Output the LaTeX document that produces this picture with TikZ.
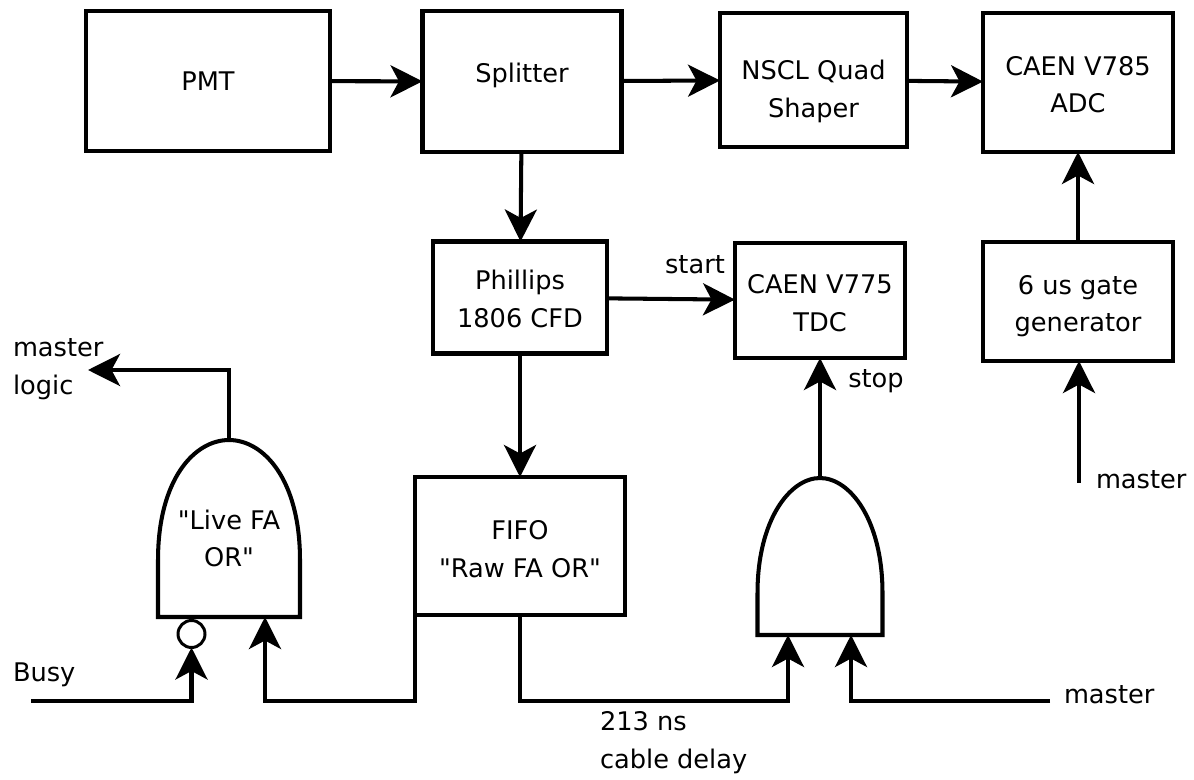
\documentclass[tikz,border=0pt]{standalone}
\usepackage{fontspec}
\setmainfont{DejaVu Sans}[Ligatures=TeXOff]
\usepackage{tikz}
\usetikzlibrary{arrows.meta, calc}
\tikzset{
  boxnode/.style={draw, line width=2.7pt, outer sep=0pt, inner sep=0pt, align=center},
  gatebox/.style={outer sep=0pt, inner sep=0pt, align=center},
  plaintext/.style={align=left, inner sep=0pt, outer sep=0pt},
  wire/.style={line width=2.3pt, line join=miter},
  sig/.style={wire, -{Stealth[length=0.64cm, width=0.64cm, inset=0.17cm]}},
  textdown/.style={text height=#1, text depth=0pt}
}

\begin{document}
\begin{tikzpicture}[x=0.02cm, y=-0.02cm,
    font=\fontsize{14.6}{21.6}\selectfont]
  \useasboundingbox (0,0) rectangle (1194,780);
  % top row
  \node[boxnode, minimum width=4.88cm, minimum height=2.8cm] (pmt) at (208,81) {PMT};
  \node[boxnode, minimum width=3.98cm, minimum height=2.82cm, textdown=1.7pt] (splitter) at (522,81.5) {Splitter};
  \node[boxnode, minimum width=3.74cm, minimum height=2.68cm, textdown=43.2pt] (shaper) at (813.5,80) {NSCL Quad\\Shaper};
  \node[boxnode, minimum width=3.8cm, minimum height=2.78cm, textdown=34.7pt] (adc) at (1078,82.5) {CAEN V785\\ADC};
  % middle row
  \node[boxnode, minimum width=3.48cm, minimum height=2.24cm, textdown=33.6pt] (cfd) at (520,297.5) {Phillips\\1806 CFD};
  \node[boxnode, minimum width=3.4cm, minimum height=2.3cm, textdown=35.8pt] (tdc) at (820,300.5) {CAEN V775\\TDC};
  \node[boxnode, minimum width=3.8cm, minimum height=2.38cm, textdown=34.7pt] (gategen) at (1078,301.5) {6 us gate\\generator};
  % bottom row
  \node[boxnode, minimum width=4.2cm, minimum height=2.76cm, textdown=35.3pt] (fifo) at (520,546) {FIFO\\"Raw FA OR"};
  \node[gatebox, minimum width=2.84cm, minimum height=3.54cm, textdown=43.8pt] (livegate) at (229,528.5) {"Live FA\\OR"};
  \node[gatebox, minimum width=2.5cm, minimum height=3.14cm] (stopgate) at (820,556.5) {};
  \node[draw, circle, line width=1.7pt, minimum size=0.54cm, inner sep=0pt, outer sep=0pt] (bubble) at (191.5,634) {};
  \draw[wire] (livegate.south west) -- (livegate.south east)
    -- ++(0,-57) .. controls +(0,-80) and +(35,0) .. (livegate.north)
    .. controls +(-35,0) and +(0,-80) .. ($(livegate.south west)+(0,-57)$) -- cycle;
  \draw[wire] (stopgate.south west) -- (stopgate.south east)
    -- ++(0,-42) .. controls +(0,-73) and +(30,0) .. (stopgate.north)
    .. controls +(-30,0) and +(0,-73) .. ($(stopgate.south west)+(0,-42)$) -- cycle;
  % free ends
  \coordinate (logicend) at (88,370);
  \coordinate (busyend) at (31,701);
  \coordinate (gatemaster) at (1079,483);
  \coordinate (stopmaster) at (1050,701);
  \coordinate (liveinput) at (265,617);
  \coordinate (delayinput) at (788,635);
  \coordinate (masterinput) at (851,635);
  % labels
  \node[plaintext] (startlabel) at (695,265) {start};
  \node[plaintext] (stoplabel) at (876,381) {stop};
  \node[plaintext, anchor=west] (gatelabel) at (1096,480) {master};
  \node[plaintext, anchor=west] (logiclabel) at (13,369) {master\\logic};
  \node[plaintext, anchor=west] (busylabel) at (13,675) {Busy};
  \node[plaintext, anchor=west] (masterlabel) at (1064,695) {master};
  \node[plaintext, anchor=west] (delaylabel) at (600,743) {213 ns\\cable delay};
  % connectors
  \draw[sig] (pmt) -- (splitter);
  \draw[sig] (splitter) -- (shaper);
  \draw[sig] (shaper) -- (adc);
  \draw[sig] (splitter) -- (cfd);
  \draw[sig] (cfd) -- (tdc);
  \draw[sig] (cfd) -- (fifo);
  \draw[sig] (gategen) -- (adc);
  \draw[sig] (gatemaster) -- (gatemaster |- gategen.south);
  \draw[sig] (stopgate.north) -- (tdc.south -| stopgate.north);
  \draw[sig] (livegate.north) -- (livegate.north |- logicend) -- (logicend);
  \draw[sig] (busyend) -- (busyend -| bubble.south) -- (bubble.south);
  \draw[sig] (fifo.south west) -- (fifo.south west |- busyend) -- (liveinput |- busyend) -- (liveinput);
  \draw[sig] (fifo.south) -- (fifo.south |- busyend) -- (delayinput |- busyend) -- (delayinput);
  \draw[sig] (stopmaster) -- (masterinput |- stopmaster) -- (masterinput);
\end{tikzpicture}
\end{document}
